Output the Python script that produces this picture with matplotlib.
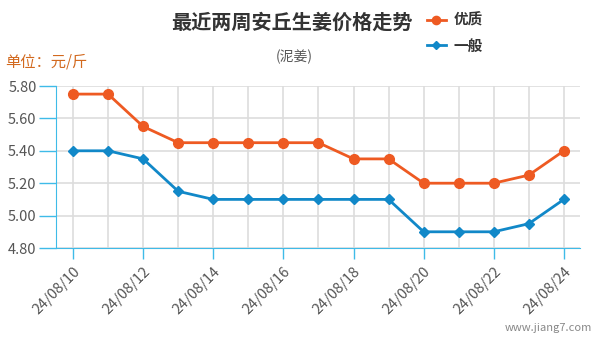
import matplotlib.pyplot as plt

plt.rcParams['font.family'] = ['Noto Sans CJK SC', 'DejaVu Sans']

dates = ['24/08/10', '24/08/11', '24/08/12', '24/08/13', '24/08/14', '24/08/15', '24/08/16',
         '24/08/17', '24/08/18', '24/08/19', '24/08/20', '24/08/21', '24/08/22', '24/08/23', '24/08/24']
youzhi = [5.75, 5.75, 5.55, 5.45, 5.45, 5.45, 5.45, 5.45, 5.35, 5.35, 5.20, 5.20, 5.20, 5.25, 5.40]
yiban = [5.40, 5.40, 5.35, 5.15, 5.10, 5.10, 5.10, 5.10, 5.10, 5.10, 4.90, 4.90, 4.90, 4.95, 5.10]
yticks = [4.80, 5.00, 5.20, 5.40, 5.60, 5.80]

orange = '#EE5A22'
blue = '#1188C8'
axis_blue = '#3FBBE8'

fig = plt.figure(figsize=(6.01, 3.40), dpi=100)
ax = fig.add_axes([56 / 601, 1 - 248 / 340, (580 - 56) / 601, (248 - 86) / 340])

x = list(range(len(dates)))
ax.plot(x, youzhi, color=orange, lw=2, marker='o', ms=7, label='优质', zorder=3)
ax.plot(x, yiban, color=blue, lw=2, marker='D', ms=5, label='一般', zorder=3)

ax.set_xlim(-0.485, 14.46)
ax.set_ylim(4.80, 5.80)
ax.set_yticks(yticks)
ax.set_yticklabels(['%.2f' % v for v in yticks])
ax.set_xticks(x)
ax.set_xticklabels([d if i % 2 == 0 else '' for i, d in enumerate(dates)],
                   rotation=45, ha='right', rotation_mode='anchor')

ax.grid(True, color='#DDDDDD', lw=1.2)
ax.set_axisbelow(True)
for s in ['top', 'right']:
    ax.spines[s].set_visible(False)
ax.spines['left'].set_color(axis_blue)
ax.spines['bottom'].set_color(axis_blue)
ax.tick_params(axis='y', colors=axis_blue, length=12, width=1, labelcolor='#555555', labelsize=10.5, pad=2)
ax.tick_params(axis='x', colors=axis_blue, length=8, width=1, labelcolor='#555555', labelsize=10.5, pad=4)
# only even-day x ticks drawn
for i, t in enumerate(ax.xaxis.get_major_ticks()):
    if i % 2 == 1:
        t.tick1line.set_visible(False)

fig.text(292 / 601, 1 - 22 / 340, '最近两周安丘生姜价格走势', ha='center', va='center',
         fontsize=14.5, fontweight='bold', color='#333333')
fig.text(294 / 601, 1 - 57 / 340, '(泥姜)', ha='center', va='center', fontsize=10, color='#555555')
fig.text(5 / 601, 1 - 62 / 340, '单位：元/斤', ha='left', va='center', fontsize=11, color='#D2691E')
fig.text(592 / 601, 1 - 328 / 340, 'www.jiang7.com', ha='right', va='center', fontsize=8, color='#888888')

leg = fig.legend(loc='upper left', bbox_to_anchor=(427 / 601, 1 - 12 / 340), frameon=False,
                 fontsize=10.5, handlelength=1.3, labelspacing=0.65, handletextpad=0.5,
                 borderpad=0, borderaxespad=0, markerscale=0.85)
for t in leg.get_texts():
    t.set_fontweight('bold')
    t.set_color('#333333')

fig.savefig('out.png', dpi=100)
